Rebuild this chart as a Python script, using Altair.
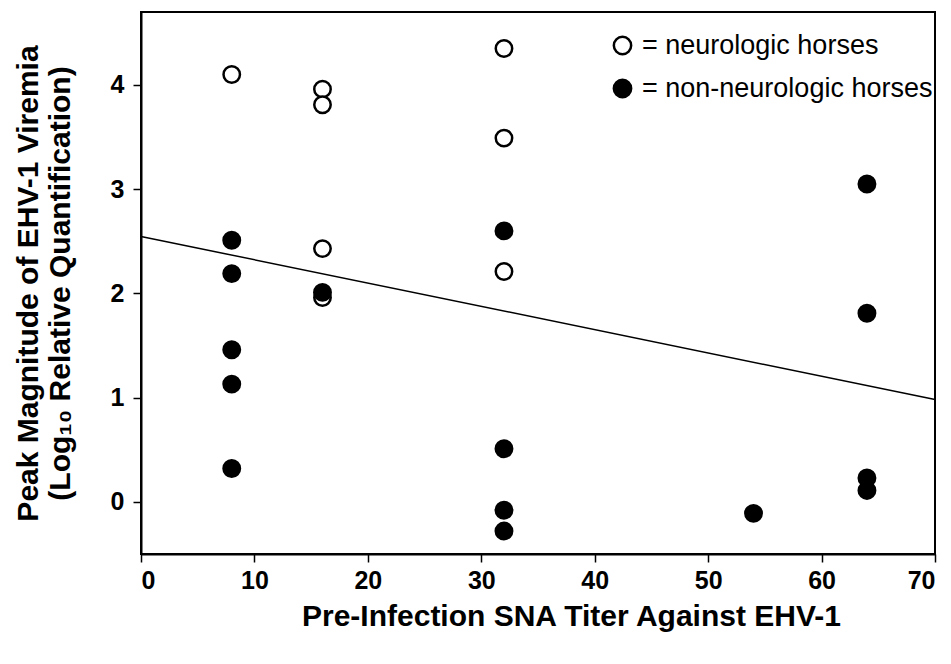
import altair as alt
import pandas as pd

# Neurologic horses (open circles)
neuro_x = [8, 16, 16, 16, 16, 32, 32, 32]
neuro_y = [4.10, 3.96, 3.81, 2.43, 1.96, 4.35, 3.49, 2.21]

# Non-neurologic horses (filled circles)
non_x = [8, 8, 8, 8, 8, 16, 32, 32, 32, 32, 54, 64, 64, 64, 64]
non_y = [2.51, 2.19, 1.46, 1.13, 0.32, 2.01, 2.60, 0.51, -0.08, -0.28, -0.11, 3.05, 1.81, 0.23, 0.11]

groups = ["neurologic", "non-neurologic"]
x_ticks = [0, 10, 20, 30, 40, 50, 60, 70]
y_ticks = [0, 1, 2, 3, 4]

df = pd.DataFrame({
    "x": neuro_x + non_x,
    "y": neuro_y + non_y,
    "group": [groups[0]] * len(neuro_x) + [groups[1]] * len(non_x),
    "ord": list(range(len(neuro_x) + len(non_x))),
})

FONT = "Liberation Sans"

xenc = alt.X("x:Q", scale=alt.Scale(domain=[0, 70], nice=False, zero=False),
             axis=alt.Axis(values=x_ticks, title="Pre-Infection SNA Titer Against EHV-1",
                           titleX=430, titlePadding=8))
yenc = alt.Y("y:Q", scale=alt.Scale(domain=[-0.5, 4.7], nice=False, zero=False),
             axis=alt.Axis(values=y_ticks,
                           title=["Peak Magnitude of EHV-1 Viremia", "(Log\u2081\u2080 Relative Quantification)"],
                           titlePadding=35, titleLineHeight=32, labelPadding=9))

points = alt.Chart(df).mark_point(filled=True, shape="circle", size=270,
                                  stroke="black", strokeWidth=2.5, opacity=1).encode(
    x=xenc,
    y=yenc,
    fill=alt.Fill("group:N",
                  scale=alt.Scale(domain=groups, range=["white", "black"]),
                  legend=alt.Legend(title=None, orient="none", legendX=468, legendY=20,
                                    symbolType="circle", symbolSize=300,
                                    symbolStrokeColor="black", symbolStrokeWidth=2.5,
                                    labelFont=FONT, labelFontSize=27, labelColor="black",
                                    labelOffset=6, rowPadding=14, labelLimit=400,
                                    labelExpr="'= ' + datum.label + ' horses'")),
    order=alt.Order("ord:Q"),
)

line = alt.Chart(df).transform_regression("x", "y", extent=[0, 70]).mark_line(
    color="black", strokeWidth=1.5).encode(x=xenc, y=yenc)

chart = alt.layer(line, points).properties(
    width=794, height=542,
    autosize=alt.AutoSizeParams(type="none"),
    padding={"left": 133, "top": 4, "right": 8, "bottom": 100},
).configure_view(
    stroke="black", strokeWidth=2
).configure_axis(
    domainColor="black", domainWidth=2, tickColor="black", tickWidth=1.5, tickSize=8,
    grid=False, labelFont=FONT, labelFontSize=25, labelFontWeight="bold", labelColor="black",
    titleFont=FONT, titleFontSize=30, titleFontWeight="bold", titleColor="black",
).configure_axisX(labelPadding=6)

chart.save("out.html", embed_options={"renderer": "svg", "actions": False})
